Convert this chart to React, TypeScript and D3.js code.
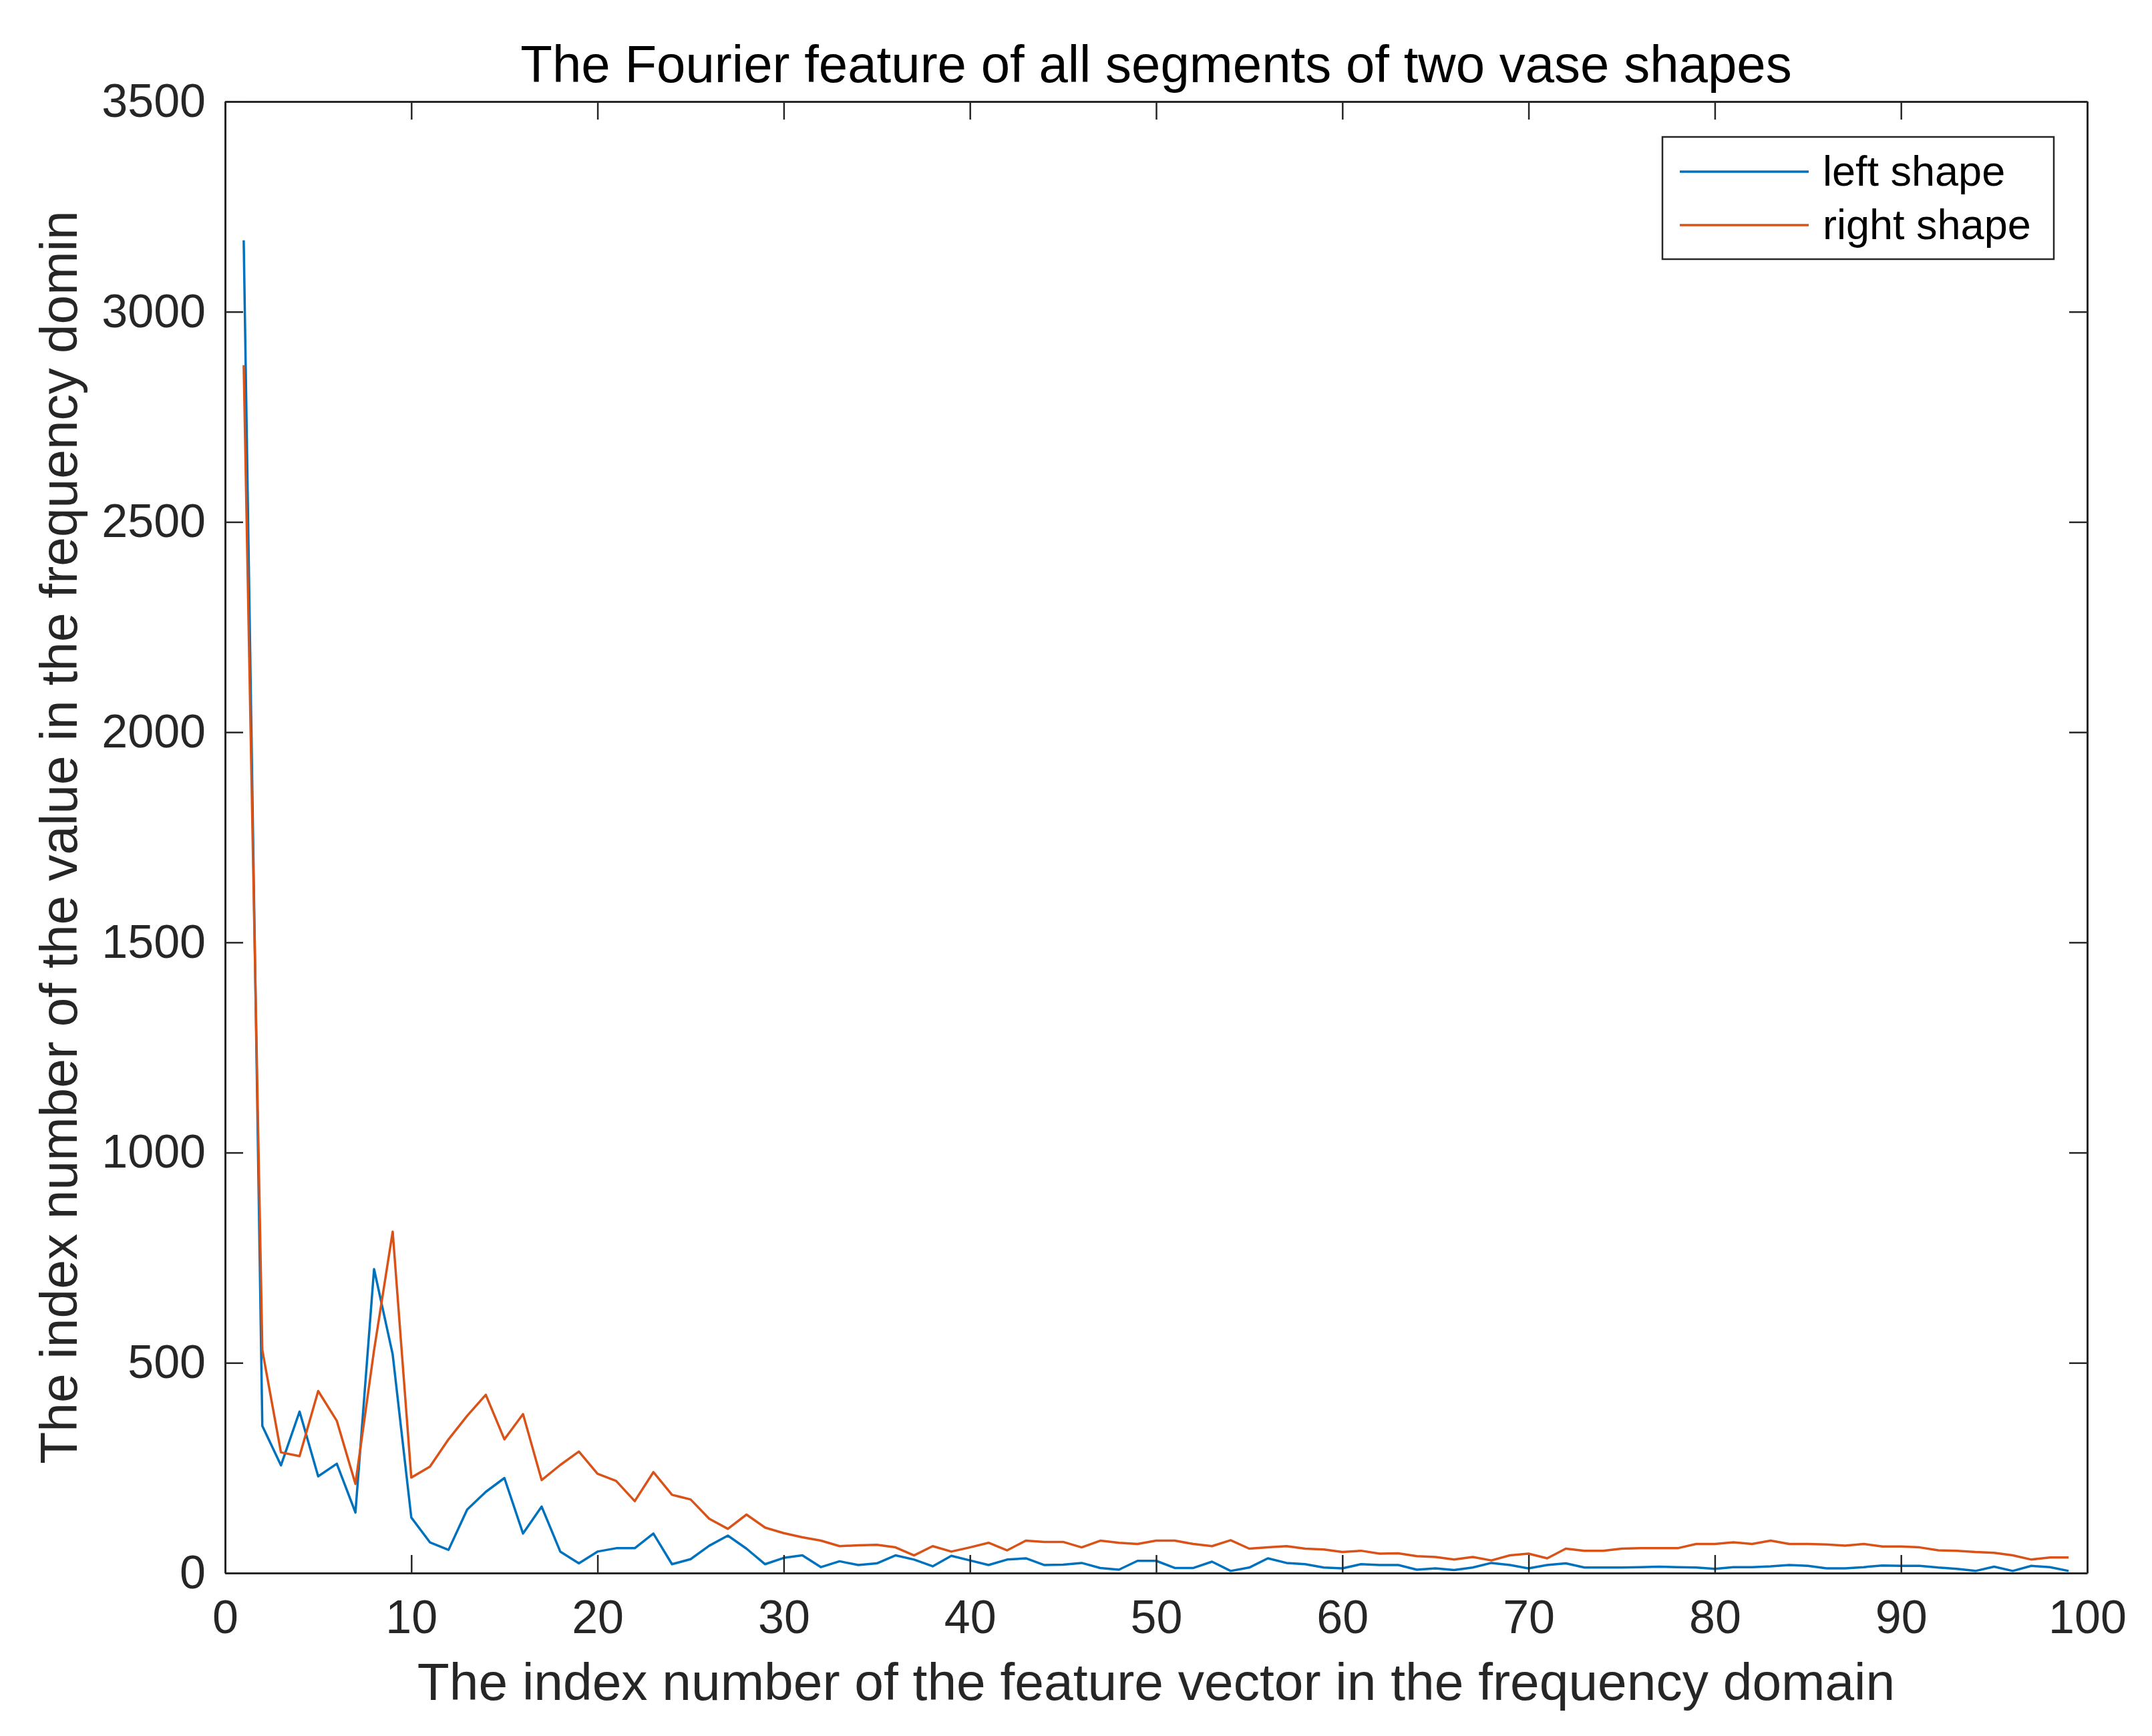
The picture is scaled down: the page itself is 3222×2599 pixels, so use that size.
import { useEffect, useRef } from "react";
import * as d3 from "d3";

// Fourier feature magnitudes, index 1..99
const leftShape = [
  3170, 350, 256, 384, 230, 260, 144, 723, 520, 132,
  73, 55, 151, 193, 226, 94, 158, 51, 23, 51,
  59, 59, 94, 21, 33, 65, 89, 58, 21, 36,
  42, 14, 28, 19, 23, 42, 32, 16, 41, 30,
  19, 32, 35, 19, 20, 24, 12, 8, 29, 29,
  12, 12, 27, 5, 13, 35, 24, 21, 13, 11,
  21, 19, 19, 8, 11, 7, 13, 24, 19, 11,
  19, 23, 13, 13, 13, 14, 15, 14, 13, 10,
  14, 14, 16, 19, 17, 11, 11, 14, 18, 17,
  17, 13, 10, 5, 15, 5, 17, 14, 5,
];

const rightShape = [
  2873, 530, 287, 278, 433, 362, 212, 530, 812, 227,
  253, 318, 374, 424, 318, 378, 221, 257, 289, 236,
  219, 171, 240, 186, 175, 129, 105, 139, 108, 95,
  85, 77, 64, 66, 67, 61, 42, 64, 51, 61,
  72, 54, 77, 74, 74, 61, 77, 72, 69, 77,
  77, 69, 64, 78, 58, 61, 64, 58, 56, 50,
  53, 46, 47, 40, 38, 32, 38, 30, 42, 46,
  35, 58, 53, 53, 58, 59, 59, 59, 69, 69,
  73, 69, 77, 69, 69, 68, 65, 69, 63, 63,
  61, 54, 53, 50, 48, 42, 32, 37, 37,
];

const seriesNames = ["left shape", "right shape"];
const seriesColors = ["#0072BD", "#D95319"];
const xTicks = [0, 10, 20, 30, 40, 50, 60, 70, 80, 90, 100];
const yTicks = [0, 500, 1000, 1500, 2000, 2500, 3000, 3500];

const titleText = "The Fourier feature of all segments of two vase shapes";
const xLabelText = "The index number of the feature vector in the frequency domain";
const yLabelText = "The index number of the value in the frequency domin";

export default function App() {
  const ref = useRef<HTMLDivElement>(null);

  useEffect(() => {
    document.body.style.margin = "0";
    const root = d3.select(ref.current);
    root.selectAll("*").remove();

    const width = 3222;
    const height = 2599;
    const margin = { top: 152, right: 97, bottom: 244, left: 337 };
    const font = "'Liberation Sans', Arial, Helvetica, sans-serif";
    const axisColor = "#262626";
    const tickLen = 27;

    const svg = root
      .append("svg")
      .attr("width", width)
      .attr("height", height)
      .attr("viewBox", `0 0 ${width} ${height}`)
      .style("display", "block")
      .style("background", "#fff")
      .style("font-family", font);

    const x = d3.scaleLinear().domain([0, 100]).range([margin.left, width - margin.right]);
    const y = d3.scaleLinear().domain([0, 3500]).range([height - margin.bottom, margin.top]);

    const styleAxis = (g: any, showText: boolean) => {
      g.select(".domain").attr("stroke", axisColor).attr("stroke-width", 3);
      g.selectAll(".tick line").attr("stroke", axisColor).attr("stroke-width", 2.5);
      g.selectAll(".tick text")
        .attr("fill", axisColor)
        .style("font-size", "70px")
        .style("font-family", font)
        .style("display", showText ? null : "none");
    };

    // data lines
    const series = [leftShape, rightShape];
    const line = d3
      .line<number>()
      .x((_, i) => x(i + 1))
      .y((d) => y(d));

    series.forEach((s, k) => {
      svg
        .append("path")
        .datum(s)
        .attr("fill", "none")
        .attr("stroke", seriesColors[k])
        .attr("stroke-width", 3.5)
        .attr("stroke-linejoin", "round")
        .attr("d", line);
    });

    // axes (box, ticks inward)
    svg
      .append("g")
      .attr("transform", `translate(0,${y(0)})`)
      .call(d3.axisBottom(x).tickValues(xTicks).tickSize(-tickLen).tickSizeOuter(0).tickPadding(40).tickFormat(d3.format("d")))
      .call((g) => styleAxis(g, true));

    svg
      .append("g")
      .attr("transform", `translate(0,${y(3500)})`)
      .call(d3.axisTop(x).tickValues(xTicks).tickSize(-tickLen).tickSizeOuter(0).tickFormat(() => ""))
      .call((g) => styleAxis(g, false));

    svg
      .append("g")
      .attr("transform", `translate(${x(0)},0)`)
      .call(d3.axisLeft(y).tickValues(yTicks).tickSize(-tickLen).tickSizeOuter(0).tickPadding(29).tickFormat(d3.format("d")))
      .call((g) => styleAxis(g, true));

    svg
      .append("g")
      .attr("transform", `translate(${x(100)},0)`)
      .call(d3.axisRight(y).tickValues(yTicks).tickSize(-tickLen).tickSizeOuter(0).tickFormat(() => ""))
      .call((g) => styleAxis(g, false));

    // title and labels
    const cx = (x(0) + x(100)) / 2;
    const cy = (y(0) + y(3500)) / 2;

    svg
      .append("text")
      .attr("x", cx)
      .attr("y", 123)
      .attr("text-anchor", "middle")
      .attr("fill", "#000")
      .style("font-size", "78px")
      .text(titleText);

    svg
      .append("text")
      .attr("x", cx)
      .attr("y", 2545)
      .attr("text-anchor", "middle")
      .attr("fill", axisColor)
      .style("font-size", "78.5px")
      .text(xLabelText);

    svg
      .append("text")
      .attr("transform", `translate(115,${cy}) rotate(-90)`)
      .attr("text-anchor", "middle")
      .attr("fill", axisColor)
      .style("font-size", "78.5px")
      .text(yLabelText);

    // legend
    const legend = svg.append("g").attr("transform", "translate(2489,205)");
    legend
      .append("rect")
      .attr("width", 586)
      .attr("height", 183)
      .attr("fill", "#fff")
      .attr("stroke", axisColor)
      .attr("stroke-width", 2.5);

    seriesNames.forEach((name, k) => {
      const ly = 52 + k * 80;
      legend
        .append("line")
        .attr("x1", 26)
        .attr("x2", 219)
        .attr("y1", ly)
        .attr("y2", ly)
        .attr("stroke", seriesColors[k])
        .attr("stroke-width", 3.5);
      legend
        .append("text")
        .attr("x", 240)
        .attr("y", ly + 21)
        .attr("fill", "#000")
        .style("font-size", "63px")
        .text(name);
    });
  }, []);

  return <div ref={ref} style={{ position: "absolute", left: 0, top: 0 }}></div>;
}
